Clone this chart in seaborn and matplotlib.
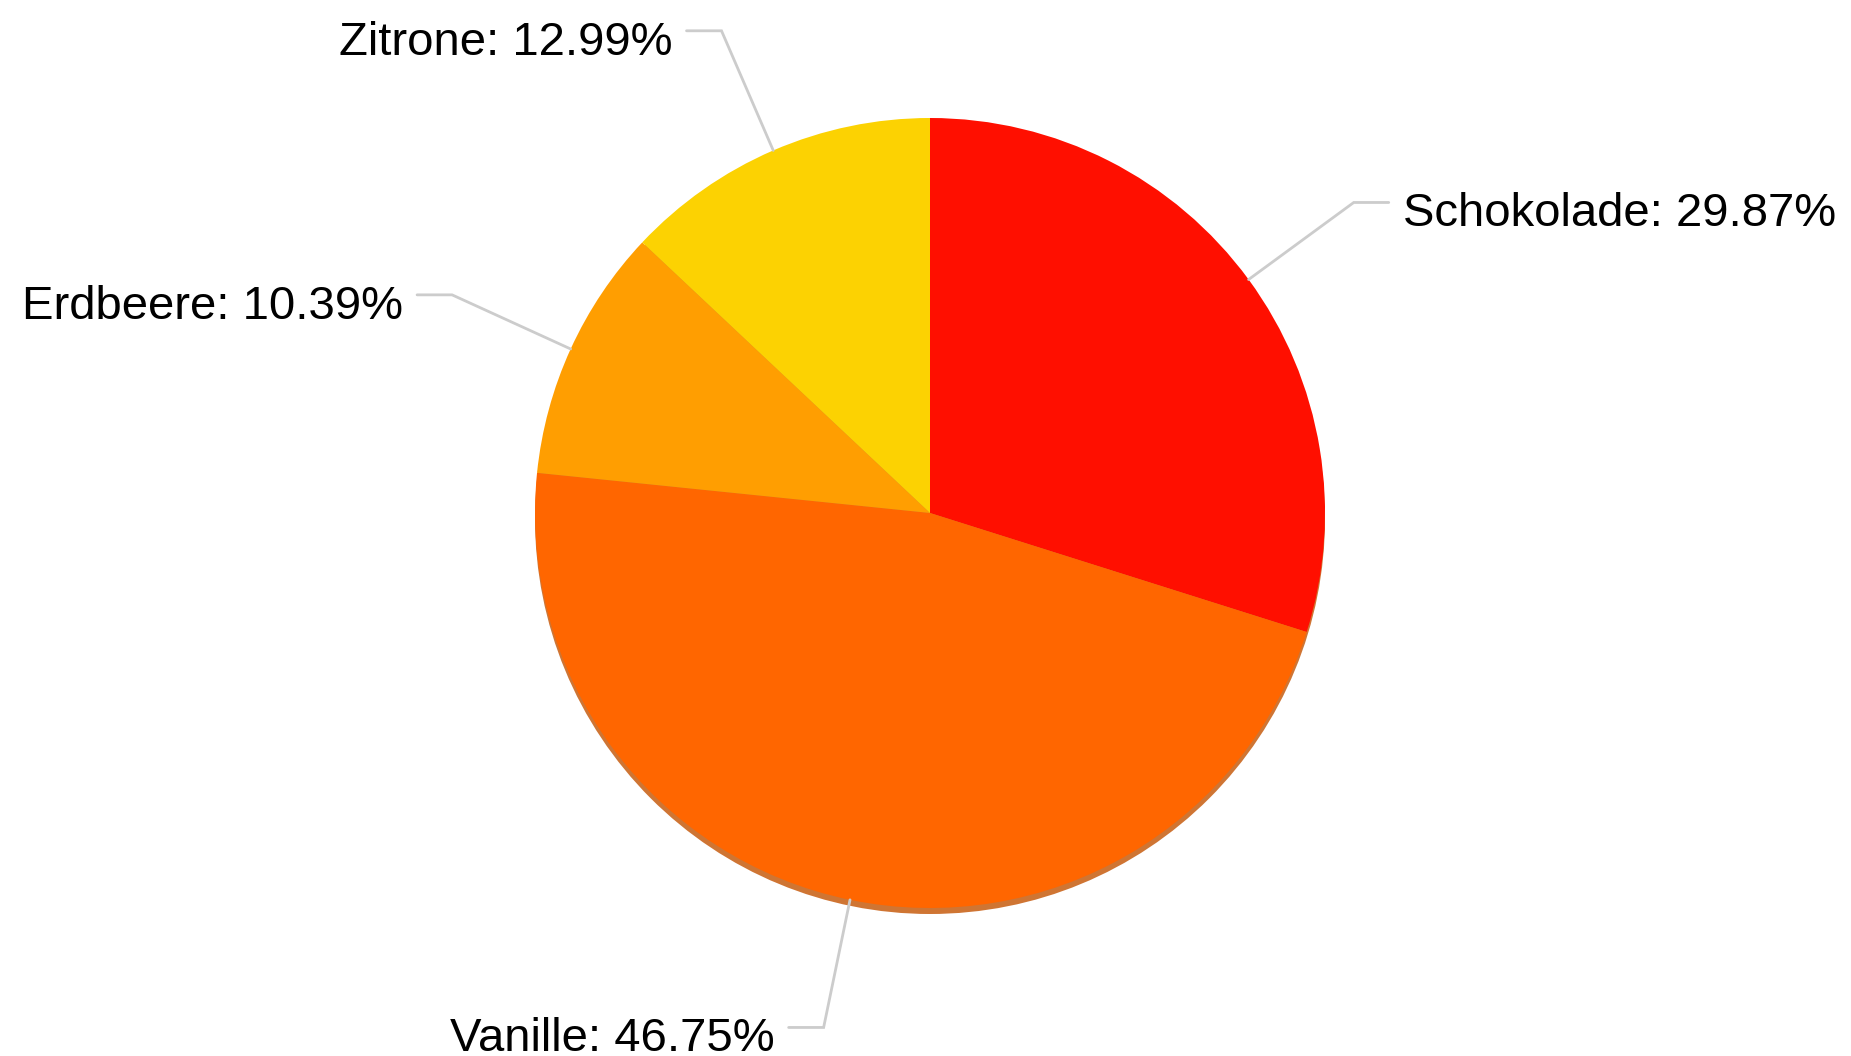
import numpy as np
import matplotlib
matplotlib.use("Agg")
import matplotlib.pyplot as plt
from matplotlib.patches import Circle
import seaborn as sns

# ─── Data ─────────────────────────────────────────────────────────────────────

flavors = ["Schokolade", "Vanille", "Erdbeere", "Zitrone"]
shares = [29.87, 46.75, 10.39, 12.99]
colors = ["#FF0F00", "#FF6600", "#FF9E01", "#FCD202"]

# ─── Layout (pixels) ──────────────────────────────────────────────────────────

W, H = 1851, 1056
R = 395.0                      # pie radius in px
CX, CY = 930, 513              # pie centre in px (from top-left)

sns.set_theme(style="white")
plt.rcParams["font.family"] = ["Liberation Sans", "DejaVu Sans"]

fig = plt.figure(figsize=(W / 100, H / 100), dpi=100)
fig.patch.set_facecolor("white")
ax = fig.add_axes([0, 0, 1, 1])

# soft shadow under the pie
ax.add_patch(Circle((0, -6 / R), 1.0, color="#c45200", alpha=0.8,
                    zorder=0, lw=0))

wedges, _ = ax.pie(shares, colors=colors, startangle=90, counterclock=False,
                   radius=1.0, wedgeprops=dict(linewidth=0))
for w in wedges:
    w.set_zorder(1)

# leader lines + labels
total = sum(shares)
for w, name, val in zip(wedges, flavors, shares):
    ang = np.deg2rad((w.theta1 + w.theta2) / 2)
    x0, y0 = np.cos(ang), np.sin(ang)
    r_el = 1.33
    x1, y1 = r_el * np.cos(ang), r_el * np.sin(ang)
    side = 1 if x1 >= 0 else -1
    x2 = x1 + side * 35 / R
    ax.plot([x0, x1, x2], [y0, y1, y1], color="#cccccc", lw=2,
            solid_joinstyle="miter", zorder=2, clip_on=False)
    ax.text(x2 + side * 14 / R, y1 - 24 / R,
            f"{name}: {val / total * 100:.2f}%",
            ha="left" if side > 0 else "right", va="baseline",
            fontsize=34, color="black", zorder=3)

ax.set_xlim(-CX / R, (W - CX) / R)
ax.set_ylim(-(H - CY) / R, CY / R)
ax.set_aspect("auto")
ax.axis("off")

fig.savefig("out.png", dpi=100, facecolor="white")
